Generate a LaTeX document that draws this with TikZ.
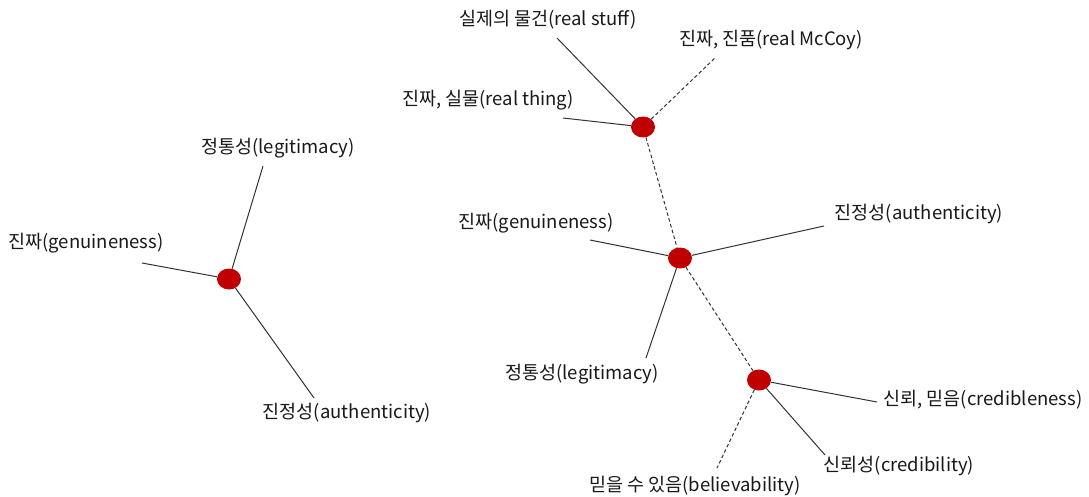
\documentclass[tikz,border=0pt]{standalone}
\usepackage{fontspec}
\setmainfont{Noto Sans CJK KR}
\definecolor{dotred}{HTML}{C00000}
\definecolor{linegray}{HTML}{333333}
\tikzset{
  dot/.style={ellipse, fill=dotred, draw=none, minimum width=24pt, minimum height=21pt, inner sep=0pt},
  lbl/.style={font=\fontsize{18.5}{22}\selectfont, text=black!90, inner sep=0pt},
  link/.style={draw=linegray, line width=1pt},
  dlink/.style={draw=linegray, line width=1pt, dash pattern=on 3.5pt off 2.5pt},
}
\usetikzlibrary{shapes.geometric}
\begin{document}
\begin{tikzpicture}[x=1pt,y=-1pt]
\useasboundingbox[fill=white] (0,0) rectangle (1089,497);
% nodes
\node[dot] (L) at (229,279) {};
\node[dot] (T) at (643,127) {};
\node[dot] (M) at (680,258) {};
\node[dot] (B) at (759,380) {};
% labels
\node[lbl] (l1) at (278,148) {정통성(legitimacy)};
\node[lbl] (l2) at (86,243) {진짜(genuineness)};
\node[lbl] (l3) at (347,413) {진정성(authenticity)};
\node[lbl] (t1) at (548,20) {실제의 물건(real stuff)};
\node[lbl] (t2) at (771,40) {진짜, 진품(real McCoy)};
\node[lbl] (t3) at (488,100) {진짜, 실물(real thing)};
\node[lbl] (m1) at (536,223) {진짜(genuineness)};
\node[lbl] (m2) at (919,214) {진정성(authenticity)};
\node[lbl] (m3) at (582,374) {정통성(legitimacy)};
\node[lbl] (b1) at (983,400) {신뢰, 믿음(credibleness)};
\node[lbl] (b2) at (899,466) {신뢰성(credibility)};
\node[lbl] (b3) at (695,486) {믿을 수 있음(believability)};
% line ends
\coordinate (cl1) at (263,166);
\coordinate (cl2) at (142,263);
\coordinate (cl3) at (314,398);
\coordinate (ct1) at (557,38);
\coordinate (ct2) at (716,57);
\coordinate (ct3) at (563,118);
\coordinate (cm1) at (590,240);
\coordinate (cm2) at (824,226);
\coordinate (cm3) at (646,358);
\coordinate (cb1) at (877,402);
\coordinate (cb2) at (825,455);
\coordinate (cb3) at (717,468);
% connectors
\draw[link] (L) -- (cl1);
\draw[link] (L) -- (cl2);
\draw[link] (L) -- (cl3);
\draw[link] (T) -- (ct1);
\draw[dlink] (T) -- (ct2);
\draw[link] (T) -- (ct3);
\draw[dlink] (T) -- (M);
\draw[link] (M) -- (cm1);
\draw[link] (M) -- (cm2);
\draw[link] (M) -- (cm3);
\draw[dlink] (M) -- (B);
\draw[link] (B) -- (cb1);
\draw[link] (B) -- (cb2);
\draw[dlink] (B) -- (cb3);
\end{tikzpicture}
\end{document}
